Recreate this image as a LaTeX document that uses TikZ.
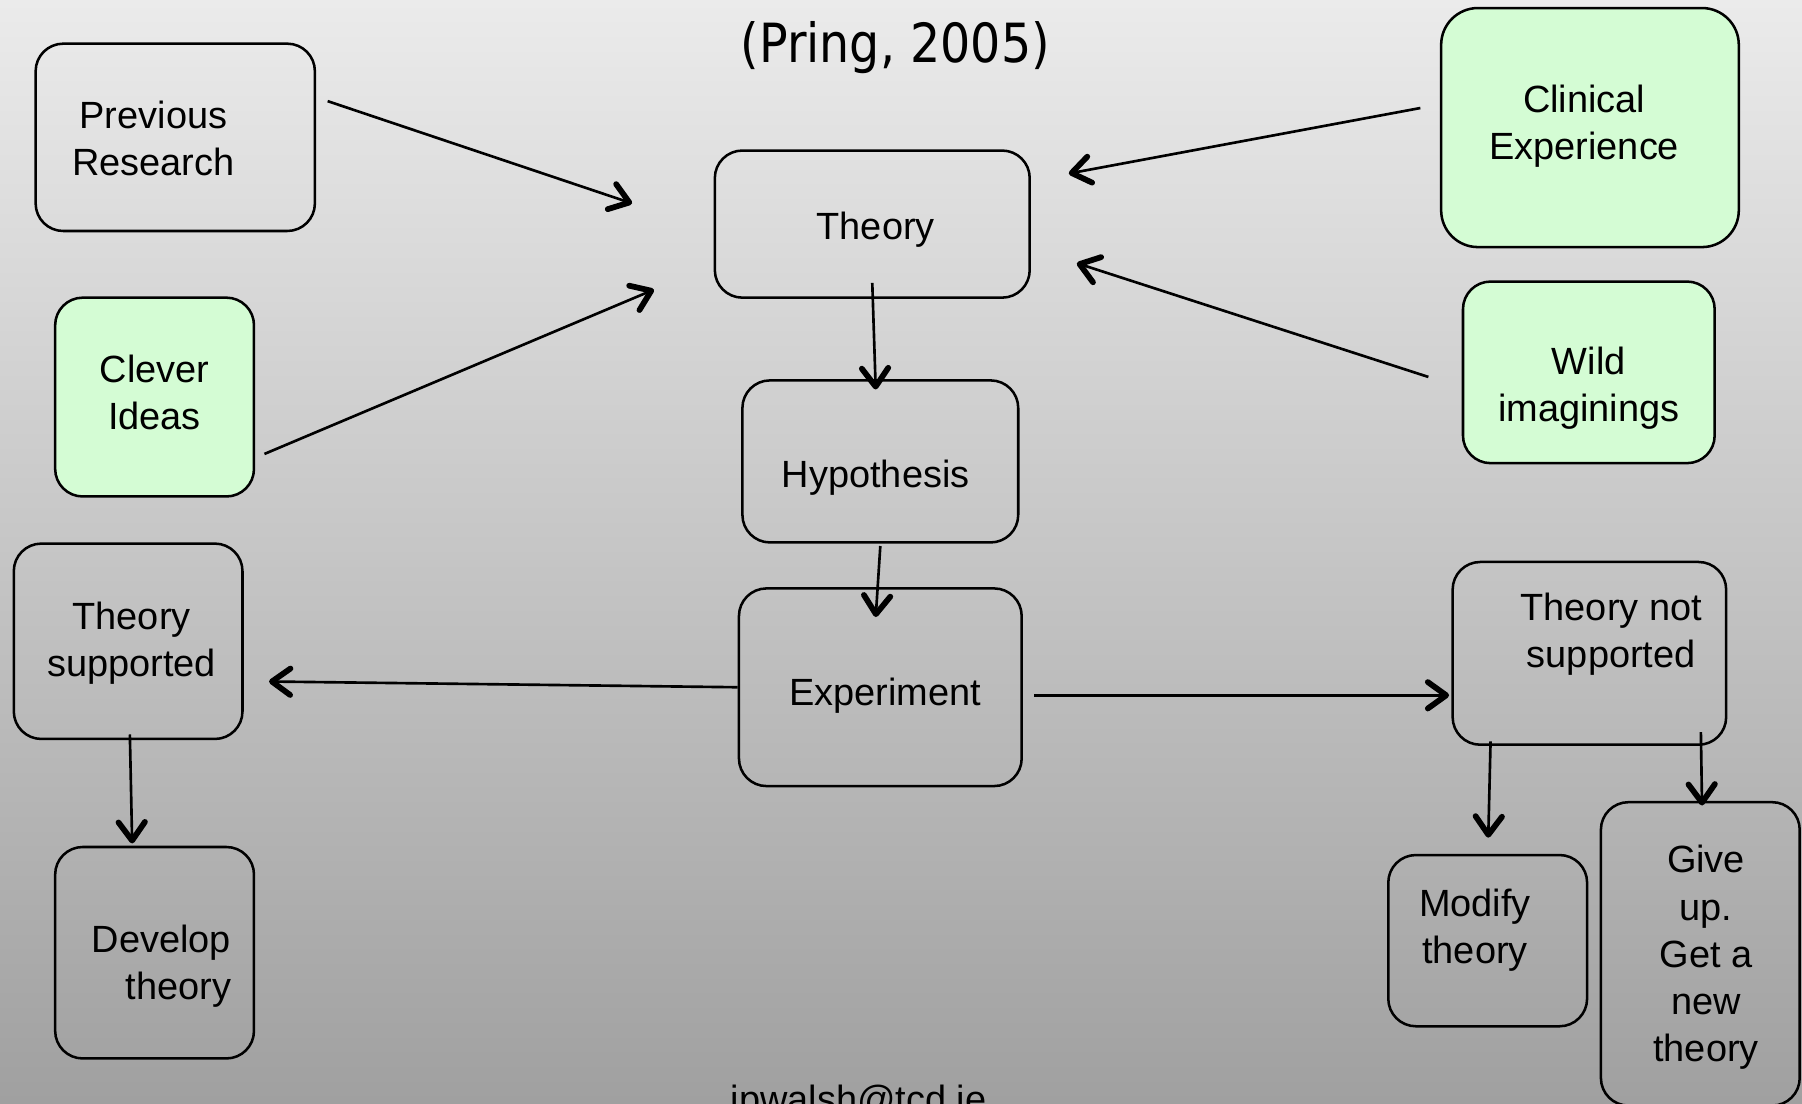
\documentclass[tikz,border=0pt]{standalone}
\usepackage{fontspec}
\setmainfont{Liberation Sans}
\newfontfamily\titlefont[FakeStretch=0.88]{DejaVu Sans}
\usepackage{xcolor}
\usetikzlibrary{arrows.meta,calc}
\definecolor{boxgreen}{RGB}{212,252,212}
\definecolor{bgtop}{RGB}{235,235,235}
\definecolor{bgbottom}{RGB}{160,160,160}

\begin{document}
\begin{tikzpicture}[x=1pt,y=-1pt,
	box/.style={draw,line width=2.2pt,rounded corners=24pt,inner sep=0pt},
	idea/.style={box,fill=boxgreen},
	txt/.style={align=center,font=\fontsize{33}{41}\selectfont,label distance=0pt},
	arr/.style={line width=2.3pt,-{Straight Barb[length=16pt,width=23pt,line width=5pt,round]}}]
	\fill[top color=bgtop,bottom color=bgbottom] (0,0) rectangle (1568,960);
	\useasboundingbox (0,0) rectangle (1568,960);
	\clip (0,0) rectangle (1568,960);
	
	\node[anchor=center] (title) at (779,41) {\titlefont\fontsize{47}{50}\selectfont (Pring, 2005)};
	\node[anchor=base,txt] (mail) at (747,968) {jpwalsh@tcd.ie};
	
	\node[box,minimum width=243,minimum height=163,label={[txt,shift={(-19,1)}]center:Previous\\Research}] (prev) at (152.5,119.5) {};
	\node[idea,minimum width=173,minimum height=173,label={[txt,shift={(0,-4)}]center:Clever\\Ideas}] (clever) at (134.5,345.5) {};
	\node[box,minimum width=274,minimum height=128,label={[txt,shift={(3,5)}]center:Theory}] (theory) at (759,195) {};
	\node[idea,minimum width=259,minimum height=208,rounded corners=32pt,label={[txt,shift={(-5,-1)}]center:Clinical\\Experience}] (clinical) at (1383.5,111) {};
	\node[idea,minimum width=219,minimum height=158,label={[txt,shift={(0,14)}]center:Wild\\imaginings}] (wild) at (1382.5,324) {};
	\node[box,minimum width=240,minimum height=141,label={[txt,shift={(-4,14)}]center:Hypothesis}] (hyp) at (766,401.5) {};
	\node[box,minimum width=246,minimum height=172,label={[txt,shift={(4,7)}]center:Experiment}] (exp) at (766,598) {};
	\node[box,minimum width=199,minimum height=170,label={[txt,shift={(3,2)}]center:Theory\\supported}] (supp) at (111.5,558) {};
	\node[box,minimum width=173,minimum height=184,label={[txt,align=right,shift={(6,12)}]center:Develop\\theory}] (dev) at (134.5,829) {};
	\node[box,minimum width=238,minimum height=159,label={[txt,shift={(19,-17)}]center:Theory not\\supported}] (notsupp) at (1383,568.5) {};
	\node[box,minimum width=173,minimum height=149,label={[txt,shift={(-11,-9)}]center:Modify\\theory}] (modify) at (1294.5,818.5) {};
	\node[box,minimum width=173,minimum height=264,label={[txt,shift={(5,3)}]center:Give\\up.\\Get a\\new\\theory}] (giveup) at (1479.5,830) {};
	
	\coordinate (inprev) at (550,177);
	\coordinate (inclever) at (569,252);
	\coordinate (inclinical) at (930,151);
	\coordinate (inwild) at (937,229);
	
	\draw[arr] ($(prev.east)+(10,-31.5)$) -- (inprev);
	\draw[arr] ($(clever.east)+(8,49.5)$) -- (inclever);
	\draw[arr] ($(clinical.west)+(-17,-17)$) -- (inclinical);
	\draw[arr] ($(wild.west)+(-29,4)$) -- (inwild);
	
	\draw[arr] ($(theory.south)+(0,-14)$) -- ($(hyp.north)+(-4,9)$);
	\draw[arr] ($(hyp.south)+(0,2)$) -- ($(exp.north)+(-4,26)$);
	\draw[arr] (exp.west) -- ($(supp.east)+(22,35)$);
	\draw[arr] ($(exp.east)+(10,7)$) -- ($(notsupp.west)+(-2,36.5)$);
	\draw[arr] ($(supp.south)+(1.5,-5)$) -- ($(dev.north)+(-19.5,-2)$);
	\draw[arr] ($(notsupp.south)+(-86,-4)$) -- ($(modify.north)+(0.5,-14)$);
	\draw[arr] ($(notsupp.south)+(97,-12)$) -- ($(giveup.north)+(1.5,4)$);
\end{tikzpicture}
\end{document}
